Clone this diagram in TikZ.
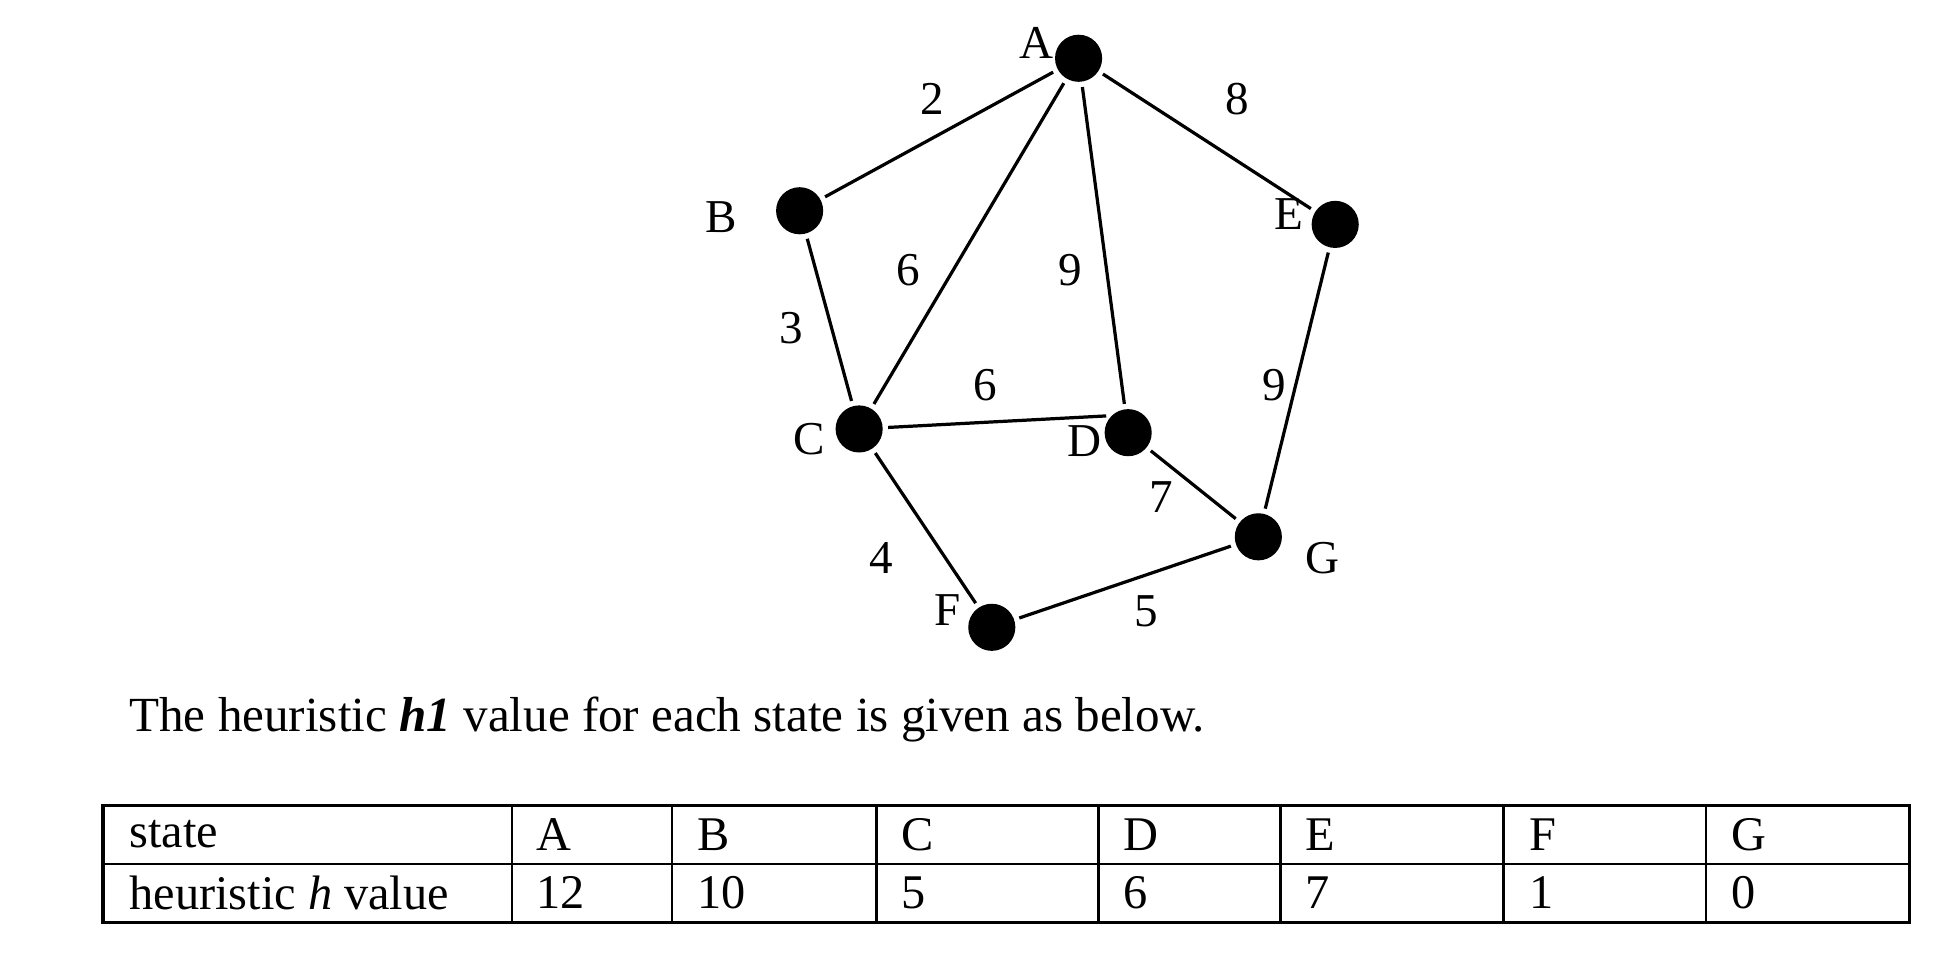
\documentclass[tikz,border=0pt]{standalone}
\usepackage{fontspec}
\setmainfont{Liberation Serif}
\begin{document}
\begin{tikzpicture}[x=0.5pt,y=-0.5pt,
  vtx/.style={circle,fill=black,minimum size=19pt,inner sep=0pt},
  lbl/.style={font=\fontsize{19}{22}\selectfont,inner sep=0pt},
  edge/.style={line width=1.3pt,shorten <=2pt,shorten >=2pt},
  cellt/.style={font=\fontsize{19.5}{22}\selectfont,anchor=west,inner sep=0pt}]
\useasboundingbox (0,0) rectangle (1560,787);
\node[vtx] (A) at (870,47) {};
\node[vtx] (B) at (645,170) {};
\node[vtx] (E) at (1077,181) {};
\node[vtx] (C) at (693,346) {};
\node[vtx] (D) at (910,349) {};
\node[vtx] (G) at (1015,433) {};
\node[vtx] (F) at (800,506) {};
\draw[edge] (A)--(B); \draw[edge] (A)--(C); \draw[edge] (A)--(D); \draw[edge] (A)--(E);
\draw[edge] (B)--(C); \draw[edge] (C)--(D.north west); \draw[edge] (C)--(F); \draw[edge] (D)--(G);
\draw[edge] (E)--(G); \draw[edge] (F)--(G);
\node[lbl] (lA) at (836,35) {A};
\node[lbl] (lB) at (582,175) {B};
\node[lbl] (lE) at (1040,173) {E};
\node[lbl] (lC) at (653,354) {C};
\node[lbl] (lD) at (875,356) {D};
\node[lbl] (lG) at (1067,450) {G};
\node[lbl] (lF) at (764,492) {F};
\node[lbl] (w1) at (752,80) {2};
\node[lbl] (w2) at (998,80) {8};
\node[lbl] (w3) at (733,218) {6};
\node[lbl] (w4) at (863,218) {9};
\node[lbl] (w5) at (638,265) {3};
\node[lbl] (w6) at (795,311) {6};
\node[lbl] (w7) at (1028,311) {9};
\node[lbl] (w8) at (937,401) {7};
\node[lbl] (w9) at (711,450) {4};
\node[lbl] (w10) at (925,493) {5};
\node[anchor=west,inner sep=0pt,font=\fontsize{19.8}{22}\selectfont] (cap) at (104,580) {The heuristic \textbf{\textit{h1}} value for each state is given as below.};
\draw[line width=1.3pt] (83,650) rectangle (1540,744);
\draw[line width=1.1pt] (83,697) -- (1540,697);
\foreach \x in {413,542,707,886,1033,1213,1376} \draw[line width=1.1pt] (\x,650) -- (\x,744);
\node[cellt] (s0) at (104,673) {state};
\node[cellt] (h0) at (104,720) {heuristic \textit{h} value};
\node[cellt] (s1) at (432,673) {A}; \node[cellt] (h1) at (432,720) {12};
\node[cellt] (s2) at (562,673) {B}; \node[cellt] (h2) at (562,720) {10};
\node[cellt] (s3) at (727,673) {C}; \node[cellt] (h3) at (727,720) {5};
\node[cellt] (s4) at (906,673) {D}; \node[cellt] (h4) at (906,720) {6};
\node[cellt] (s5) at (1053,673) {E}; \node[cellt] (h5) at (1053,720) {7};
\node[cellt] (s6) at (1233,673) {F}; \node[cellt] (h6) at (1233,720) {1};
\node[cellt] (s7) at (1396,673) {G}; \node[cellt] (h7) at (1396,720) {0};
\end{tikzpicture}
\end{document}
